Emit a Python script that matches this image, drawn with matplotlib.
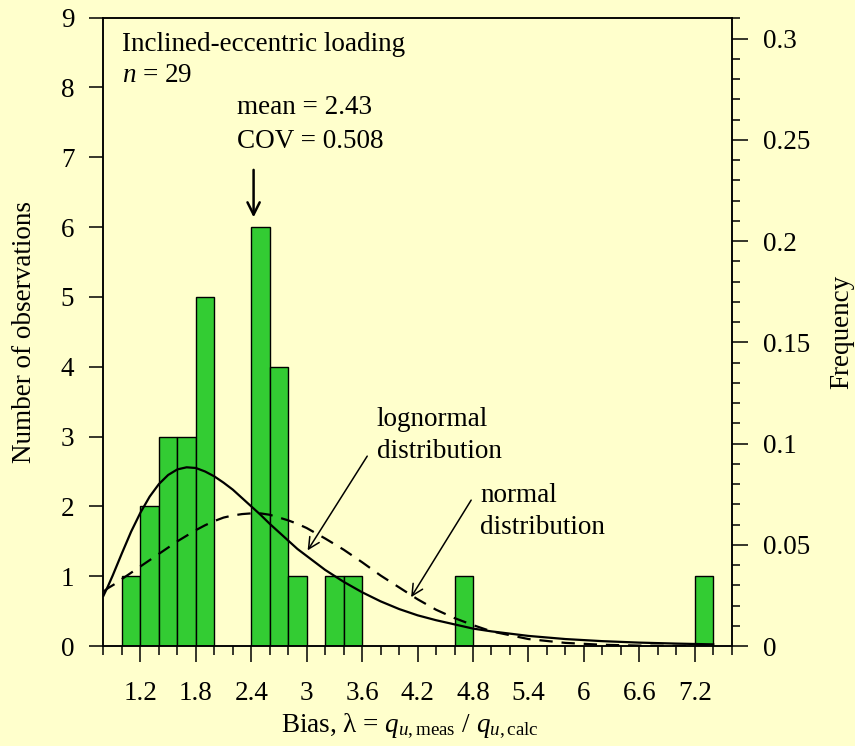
import matplotlib
matplotlib.use("Agg")
import matplotlib.pyplot as plt
from matplotlib.ticker import MultipleLocator

# histogram of bias values (bin width 0.2)
bin_left = [1.0, 1.2, 1.4, 1.6, 1.8, 2.4, 2.6, 2.8, 3.2, 3.4, 4.6, 7.2]
counts = [1, 2, 3, 3, 5, 6, 4, 1, 1, 1, 1, 1]
n_obs = 29

# fitted curves (in number of observations)
curve_x = [0.8, 0.85, 0.9, 0.95, 1.0, 1.1, 1.2, 1.3, 1.4, 1.5, 1.6, 1.7,
           1.8, 1.9, 2.0, 2.1, 2.2, 2.3, 2.4, 2.5, 2.6, 2.7, 2.8, 2.9, 3.0,
           3.2, 3.4, 3.6, 3.8, 4.0, 4.2, 4.4, 4.6, 4.8, 5.0, 5.4, 5.8, 6.2,
           6.6, 7.0, 7.4]
lognormal_y = [0.72, 0.86, 1.01, 1.17, 1.33, 1.64, 1.91, 2.14, 2.32, 2.45,
               2.53, 2.56, 2.55, 2.50, 2.43, 2.34, 2.24, 2.12, 2.00, 1.88,
               1.75, 1.63, 1.51, 1.39, 1.29, 1.09, 0.92, 0.77, 0.64, 0.53,
               0.44, 0.37, 0.31, 0.25, 0.21, 0.145, 0.10, 0.07, 0.049,
               0.035, 0.024]
normal_y = [0.78, 0.83, 0.87, 0.91, 0.96, 1.05, 1.14, 1.23, 1.32, 1.41,
            1.50, 1.58, 1.66, 1.73, 1.79, 1.84, 1.87, 1.89, 1.90, 1.90,
            1.88, 1.84, 1.80, 1.75, 1.69, 1.54, 1.38, 1.20, 1.01, 0.84,
            0.67, 0.52, 0.40, 0.30, 0.21, 0.10, 0.045, 0.018, 0.006,
            0.002, 0.001]

bg = "#FFFFCC"
plt.rcParams["font.family"] = ["Liberation Serif", "DejaVu Serif"]
plt.rcParams["mathtext.fontset"] = "custom"
plt.rcParams["mathtext.rm"] = "Liberation Serif"
plt.rcParams["mathtext.it"] = "Liberation Serif:italic"
plt.rcParams["font.size"] = 19.5

fig = plt.figure(figsize=(8.55, 7.46), dpi=100, facecolor=bg)
ax = fig.add_axes([0.121, 0.134, 0.7348, 0.8423])
ax.set_facecolor(bg)

ax.bar(bin_left, counts, width=0.2, align="edge", color="#33CC33",
       edgecolor="black", linewidth=1.0, zorder=2)
ax.plot(curve_x, lognormal_y, color="black", lw=1.6, zorder=3)
ax.plot(curve_x, normal_y, color="black", lw=1.6, ls=(0, (6, 4)), zorder=3)

ax.set_xlim(0.8, 7.6)
ax.set_ylim(0, 9)
ax.xaxis.set_minor_locator(MultipleLocator(0.2))
ax.set_xticks([1.2, 1.8, 2.4, 3.0, 3.6, 4.2, 4.8, 5.4, 6.0, 6.6, 7.2])
ax.set_xticklabels(["1.2", "1.8", "2.4", "3", "3.6", "4.2", "4.8", "5.4",
                    "6", "6.6", "7.2"])
ax.set_yticks(range(0, 10))
ax.tick_params(axis="x", which="major", direction="out", length=11.5,
               width=1.1, pad=14)
ax.tick_params(axis="x", which="minor", direction="out", length=6.5,
               width=1.1)
ax.tick_params(axis="y", which="major", direction="out", length=10,
               width=1.1, pad=11)
for s in ax.spines.values():
    s.set_linewidth(1.1)

ax.set_xlabel(r"Bias, λ = $q_{u\mathrm{,meas}}$ / $q_{u\mathrm{,calc}}$",
              labelpad=7)
ax.xaxis.set_label_coords(0.487, -0.105)
ax.set_ylabel("Number of observations", labelpad=17)

ax2 = ax.twinx()
ax2.set_ylim(0, 9 / n_obs)
ax2.yaxis.set_minor_locator(MultipleLocator(0.01))
ax2.set_yticks([0, 0.05, 0.1, 0.15, 0.2, 0.25, 0.3])
ax2.set_yticklabels(["0", "0.05", "0.1", "0.15", "0.2", "0.25", "0.3"])
ax2.tick_params(axis="y", which="major", direction="out", length=11.5,
                width=1.1, pad=11)
ax2.tick_params(axis="y", which="minor", direction="out", length=6,
                width=1.1)
ax2.set_ylabel("Frequency", labelpad=14)
for s in ax2.spines.values():
    s.set_linewidth(1.1)

# annotations
ax.text(1.0, 8.62, "Inclined-eccentric loading", va="center", ha="left")
ax.text(1.0, 8.17, r"$n$ = 29", va="center", ha="left")
ax.text(2.25, 7.71, "mean = 2.43", va="center", ha="left")
ax.text(2.25, 7.22, "COV = 0.508", va="center", ha="left")
ax.annotate("", xy=(2.425, 6.14), xytext=(2.425, 6.82),
            arrowprops=dict(arrowstyle="->", lw=1.8, color="black",
                            mutation_scale=22, shrinkA=0, shrinkB=0))
ax.text(3.76, 3.24, "lognormal", va="center", ha="left")
ax.text(3.76, 2.78, "distribution", va="center", ha="left")
ax.annotate("", xy=(3.01, 1.37), xytext=(3.655, 2.72),
            arrowprops=dict(arrowstyle="->", lw=1.1, color="black",
                            mutation_scale=20, shrinkA=0, shrinkB=0))
ax.text(4.88, 2.16, "normal", va="center", ha="left")
ax.text(4.88, 1.70, "distribution", va="center", ha="left")
ax.annotate("", xy=(4.13, 0.70), xytext=(4.78, 2.09),
            arrowprops=dict(arrowstyle="->", lw=1.1, color="black",
                            mutation_scale=20, shrinkA=0, shrinkB=0))

fig.savefig("out.png", dpi=100, facecolor=bg)
